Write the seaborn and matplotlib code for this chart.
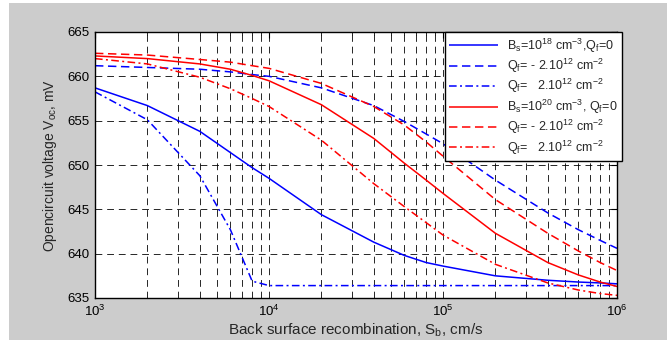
import numpy as np
import pandas as pd
import matplotlib
matplotlib.use("Agg")
import matplotlib.pyplot as plt
from matplotlib.patches import Rectangle
from matplotlib.ticker import LogLocator, FixedLocator, NullFormatter
import seaborn as sns

# ---- data ----
sb = [1e3, 2e3, 4e3, 6e3, 8e3, 1e4, 2e4, 4e4, 6e4, 8e4, 1e5, 2e5, 4e5, 6e5, 8e5, 1e6]

bs18_q0 = [658.7, 656.7, 653.8, 651.4, 649.7, 648.5, 644.4, 641.3, 639.8, 639.0,
           638.6, 637.5, 637.0, 636.8, 636.7, 636.6]
bs18_qneg = [661.2, 661.0, 660.8, 660.5, 660.2, 660.0, 658.7, 656.7, 654.9, 653.5,
             652.4, 648.3, 644.6, 642.7, 641.5, 640.6]
bs18_qpos = [658.25, 655.1, 648.8, 642.7, 636.9, 636.4, 636.4, 636.4, 636.4, 636.4,
             636.4, 636.4, 636.4, 636.4, 636.4, 636.4]
bs20_q0 = [662.3, 662.0, 661.4, 660.8, 660.1, 659.5, 656.8, 653.0, 650.2, 648.3,
           646.8, 642.3, 639.0, 637.6, 636.8, 636.3]
bs20_qneg = [662.6, 662.4, 661.9, 661.6, 661.2, 660.9, 659.2, 656.6, 654.5, 652.6,
             651.0, 646.1, 642.3, 640.3, 639.0, 638.1]
bs20_qpos = [662.0, 661.4, 659.9, 658.6, 657.5, 656.6, 652.8, 647.9, 645.3, 643.5,
             642.1, 638.8, 636.7, 635.9, 635.5, 635.3]

labels = [
    r"B$_\mathrm{s}$=10$^{18}$ cm$^{-3}$,Q$_\mathrm{f}$=0",
    r"Q$_\mathrm{f}$= - 2.10$^{12}$ cm$^{-2}$",
    r"Q$_\mathrm{f}$=   2.10$^{12}$ cm$^{-2}$",
    r"B$_\mathrm{s}$=10$^{20}$ cm$^{-3}$, Q$_\mathrm{f}$=0",
    r"Q$_\mathrm{f}$= - 2.10$^{12}$ cm$^{-2}$",
    r"Q$_\mathrm{f}$=   2.10$^{12}$ cm$^{-2}$",
]
series = [bs18_q0, bs18_qneg, bs18_qpos, bs20_q0, bs20_qneg, bs20_qpos]
colors = ["#0000ff", "#0000ff", "#0000ff", "#ff0000", "#ff0000", "#ff0000"]
dash_solid = (0, ())
dash_dash = (0, (5.5, 3.0))
dash_dot = (0, (5.0, 2.2, 1.3, 2.2))
styles = [dash_solid, dash_dash, dash_dot, dash_solid, dash_dash, dash_dot]

yticks = [635, 640, 645, 650, 655, 660, 665]
xticks = [1e3, 1e4, 1e5, 1e6]

sns.set_style("white")
plt.rcParams["font.family"] = ["Liberation Sans", "DejaVu Sans"]
plt.rcParams["mathtext.fontset"] = "custom"
plt.rcParams["mathtext.rm"] = "Liberation Sans"
plt.rcParams["mathtext.it"] = "Liberation Sans"

W, H = 667, 340
fig = plt.figure(figsize=(W / 100, H / 100), dpi=100)
fig.patch.set_facecolor("white")
fig.patches.append(Rectangle((9 / W, 0), 1 - 9 / W, (337) / H, transform=fig.transFigure,
                             facecolor="#cccccc", edgecolor="none", zorder=-10))

ax = fig.add_axes([95 / W, 1 - 298 / H, (617 - 95) / W, (298 - 32) / H])
ax.set_facecolor("white")

for i, (vals, lab, c, ls) in enumerate(zip(series, labels, colors, styles)):
    df = pd.DataFrame({"Sb": sb, "Voc": vals})
    sns.lineplot(data=df, x="Sb", y="Voc", ax=ax, color=c, linewidth=1.1, label=lab)
    ax.lines[-1].set_linestyle(ls)

ax.set_xscale("log")
ax.set_xlim(1e3, 1e6)
ax.set_ylim(635, 665)
ax.xaxis.set_major_locator(FixedLocator(xticks))
ax.xaxis.set_minor_locator(LogLocator(base=10, subs=np.arange(2, 10), numticks=20))
ax.xaxis.set_minor_formatter(NullFormatter())
ax.yaxis.set_major_locator(FixedLocator(yticks))
ax.set_yticklabels([str(t) for t in yticks])
ax.set_xticklabels([r"10$^{%d}$" % int(np.log10(t)) for t in xticks])

grid_kw = dict(color="black", linestyle=(0, (7, 5)), linewidth=0.7, alpha=0.85)
ax.grid(True, which="major", axis="both", **grid_kw)
ax.grid(True, which="minor", axis="x", **grid_kw)

ax.tick_params(axis="both", which="both", direction="in", top=True, right=True,
               labelsize=9.5, colors="black", pad=4)
ax.tick_params(axis="both", which="major", length=4, width=0.8)
ax.tick_params(axis="x", which="minor", length=2.5, width=0.6)
for s in ax.spines.values():
    s.set_visible(True)
    s.set_color("black")
    s.set_linewidth(1.0)

ax.set_xlabel(r"Back surface recombination, S$_\mathrm{b}$, cm/s", fontsize=11, labelpad=2)
ax.set_ylabel(r"Opencircuit voltage V$_\mathrm{oc}$, mV", fontsize=10, labelpad=6)

leg = ax.legend(loc="upper left", bbox_to_anchor=(445 / W, 1 - 32 / H),
                bbox_transform=fig.transFigure, frameon=True, fancybox=False,
                borderaxespad=0, fontsize=9, handlelength=3.9, labelspacing=0.18,
                borderpad=0.35, handletextpad=0.7)
leg.get_frame().set_edgecolor("black")
leg.get_frame().set_linewidth(1.0)
leg.get_frame().set_alpha(1)

fig.savefig("out.png", dpi=100)
